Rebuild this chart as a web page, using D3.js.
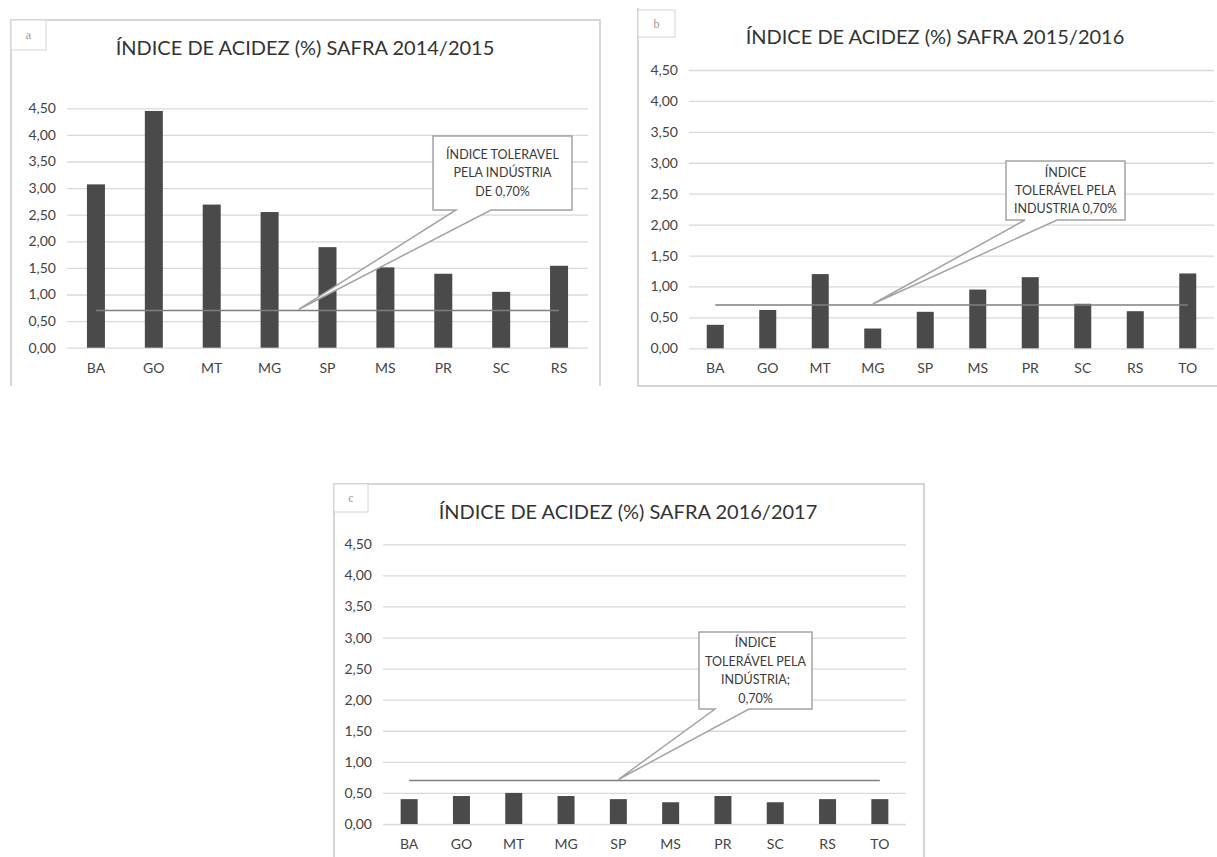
<!DOCTYPE html>
<html>
<head>
<meta charset="utf-8">
<script src="https://cdn.jsdelivr.net/npm/d3@7"></script>
<style>
  body { margin: 0; background: #fff; }
  svg text { font-family: Lato, "Open Sans", sans-serif; }
</style>
</head>
<body>
<script>
'use strict';

(function() {

    var width = 1217,
        height = 857;

    // values (panel c is damaged in the source, estimated)
    var statesA = ["BA", "GO", "MT", "MG", "SP", "MS", "PR", "SC", "RS"];
    var acidezA = [3.07, 4.45, 2.69, 2.55, 1.89, 1.51, 1.39, 1.05, 1.54];

    var statesB = ["BA", "GO", "MT", "MG", "SP", "MS", "PR", "SC", "RS", "TO"];
    var acidezB = [0.38, 0.62, 1.20, 0.32, 0.59, 0.95, 1.15, 0.72, 0.60, 1.21];

    var statesC = ["BA", "GO", "MT", "MG", "SP", "MS", "PR", "SC", "RS", "TO"];
    var acidezC = [0.40, 0.45, 0.50, 0.45, 0.40, 0.35, 0.45, 0.35, 0.40, 0.40];

    var yTicks = [0, 0.5, 1, 1.5, 2, 2.5, 3, 3.5, 4, 4.5];
    var tolerance = 0.70;

    var titles = ["ÍNDICE DE ACIDEZ (%) SAFRA 2014/2015",
                  "ÍNDICE DE ACIDEZ (%) SAFRA 2015/2016",
                  "ÍNDICE DE ACIDEZ (%) SAFRA 2016/2017"];
    var letters = ["a", "b", "c"];
    var calloutA = ["ÍNDICE TOLERAVEL", "PELA INDÚSTRIA", "DE 0,70%"];
    var calloutB = ["ÍNDICE", "TOLERÁVEL PELA", "INDUSTRIA 0,70%"];
    var calloutC = ["ÍNDICE", "TOLERÁVEL PELA", "INDÚSTRIA;", "0,70%"];

    var br = d3.formatLocale({ decimal: ",", thousands: ".", grouping: [3], currency: ["R$", ""] });
    var fmt = br.format(".2f");

    var panels = [
        { states: statesA, values: acidezA, title: titles[0], letter: letters[0], callout: calloutA,
          frame: "M11,386 L11,20 L600,20 L600,386", box: [11, 20, 35, 30],
          titleX: 305, titleY: 48,
          left: 67, right: 588, yTop: 108.3, yBase: 347.7, barW: 18,
          cBox: [433, 136, 572, 210], cBase: [456, 491], cTip: ["MG", "SP"], lineH: 18.5 },
        { states: statesB, values: acidezB, title: titles[1], letter: letters[1], callout: calloutB,
          frame: "M638,8 L638,386 L1217,386", box: [638, 10, 37, 27],
          titleX: 935, titleY: 37,
          left: 689, right: 1214, yTop: 70, yBase: 348.3, barW: 17,
          cBox: [1006, 161, 1125, 220], cBase: [1025, 1057], cTip: ["MG", "MG"], lineH: 18 },
        { states: statesC, values: acidezC, title: titles[2], letter: letters[2], callout: calloutC,
          frame: "M334,857 L334,484 L924,484 L924,857", box: [334, 484, 34, 28],
          titleX: 628, titleY: 512,
          left: 383, right: 906, yTop: 544.3, yBase: 824, barW: 17,
          cBox: [699, 632, 812, 709], cBase: [715, 749], cTip: ["SP", "SP"], lineH: 18.5 }
    ];

    var svg = d3.select("body")
        .append("svg")
        .attr("width", width)
        .attr("height", height);

    panels.forEach(drawPanel);

    function drawPanel(p) {
        var g = svg.append("g");

        g.append("path")
            .attr("d", p.frame)
            .attr("fill", "none")
            .attr("stroke", "#c9c9c9")
            .attr("stroke-width", 1.5);

        g.append("rect")
            .attr("x", p.box[0]).attr("y", p.box[1])
            .attr("width", p.box[2]).attr("height", p.box[3])
            .attr("fill", "#fff")
            .attr("stroke", "#d4d4d4");
        g.append("text")
            .attr("x", p.box[0] + p.box[2] / 2)
            .attr("y", p.box[1] + p.box[3] / 2 + 4)
            .attr("text-anchor", "middle")
            .style("font-family", "'Liberation Serif', serif")
            .style("font-size", "12px")
            .attr("fill", "#999")
            .text(p.letter);

        g.append("text")
            .attr("x", p.titleX)
            .attr("y", p.titleY)
            .attr("dy", "0.35em")
            .attr("text-anchor", "middle")
            .style("font-size", "20px")
            .attr("fill", "#333")
            .text(p.title);

        var x = d3.scaleBand()
            .domain(p.states)
            .range([p.left, p.right]);
        var pad = 1 - p.barW / x.step();
        x.paddingInner(pad).paddingOuter(pad / 2);

        var y = d3.scaleLinear()
            .domain([0, 4.5])
            .range([p.yBase, p.yTop]);

        var grid = g.append("g")
            .attr("transform", "translate(" + p.left + ",0)")
            .call(d3.axisLeft(y)
                .tickValues(yTicks)
                .tickSize(-(p.right - p.left))
                .tickPadding(11)
                .tickFormat(fmt));
        grid.select(".domain").remove();
        grid.selectAll("line").attr("stroke", "#d9d9d9").attr("stroke-width", 1.3);
        grid.selectAll("text").attr("fill", "#444").style("font-size", "14px");

        g.selectAll("rect.bar")
            .data(p.values)
            .enter()
            .append("rect")
            .attr("class", "bar")
            .attr("x", function(d, i) { return x(p.states[i]); })
            .attr("y", function(d) { return y(d); })
            .attr("width", x.bandwidth())
            .attr("height", function(d) { return y(0) - y(d); })
            .attr("fill", "#4a4a4a");

        var xa = g.append("g")
            .attr("transform", "translate(0," + y(0) + ")")
            .call(d3.axisBottom(x).tickSize(0).tickPadding(15));
        xa.select(".domain").remove();
        xa.selectAll("text").attr("fill", "#444").style("font-size", "14px");

        // tolerance series: a flat line through every category
        var line = d3.line()
            .x(function(d) { return x(d) + x.bandwidth() / 2; })
            .y(function() { return y(tolerance); });
        g.append("path")
            .datum(p.states)
            .attr("d", line)
            .attr("fill", "none")
            .attr("stroke", "#7f7f7f")
            .attr("stroke-width", 1.6);

        // callout with pointer to the tolerance line
        var tipX = (x(p.cTip[0]) + x(p.cTip[1])) / 2 + x.bandwidth() / 2,
            tipY = y(tolerance) - 1,
            b = p.cBox;
        var d = "M" + b[0] + "," + b[1] + " L" + b[2] + "," + b[1] + " L" + b[2] + "," + b[3] +
                " L" + p.cBase[1] + "," + b[3] + " L" + tipX + "," + tipY +
                " L" + p.cBase[0] + "," + b[3] + " L" + b[0] + "," + b[3] + " Z";
        g.append("path")
            .attr("d", d)
            .attr("fill", "#fff")
            .attr("stroke", "#a3a3a3")
            .attr("stroke-width", 1.5);

        var cx = (b[0] + b[2]) / 2,
            n = p.callout.length,
            cy = (b[1] + b[3]) / 2 - (n - 1) * p.lineH / 2;
        g.selectAll("text.callout")
            .data(p.callout)
            .enter()
            .append("text")
            .attr("class", "callout")
            .attr("x", cx)
            .attr("y", function(t, i) { return cy + i * p.lineH; })
            .attr("dy", "0.35em")
            .attr("text-anchor", "middle")
            .style("font-size", "12.5px")
            .attr("fill", "#3a3a3a")
            .text(function(t) { return t; });
    }
})();
</script>
</body>
</html>
